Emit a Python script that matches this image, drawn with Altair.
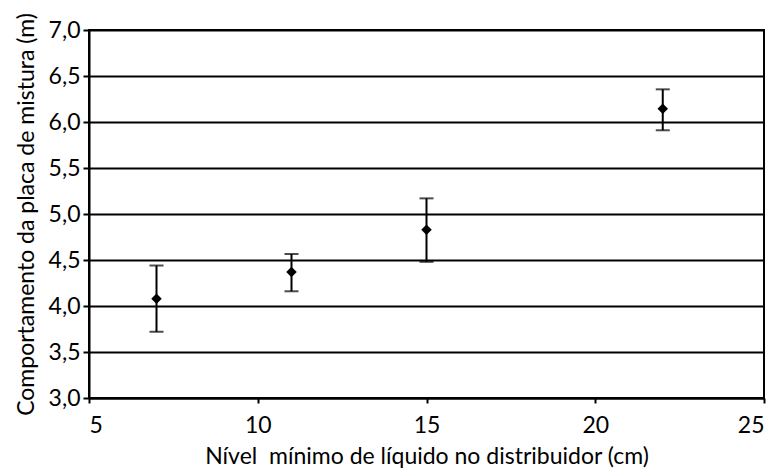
import altair as alt
import pandas as pd

nivel = [7, 11, 15, 22]
media = [4.08, 4.37, 4.83, 6.145]
sup = [4.44, 4.565, 5.17, 6.355]
inf = [3.72, 4.16, 4.48, 5.91]

df = pd.DataFrame({"x": nivel, "y": media, "hi": sup, "lo": inf})

FONT = "Lato"
xs = alt.Scale(domain=[5, 25], nice=False, zero=False)
ys = alt.Scale(domain=[3, 7], nice=False, zero=False)

xenc = alt.X("x:Q", scale=xs,
             axis=alt.Axis(title="Nível\u00a0 mínimo de líquido no distribuidor (cm)",
                           values=[5, 10, 15, 20, 25], grid=False,
                           domainColor="black", domainWidth=2, tickColor="black",
                           tickWidth=2, tickSize=5, labelFontSize=23, labelColor="black",
                           labelFont=FONT, titleFont=FONT, titleFontSize=23,
                           titleFontWeight="normal", titleColor="black", labelPadding=11,
                           titlePadding=8))
yenc = alt.Y("y:Q", scale=ys,
             axis=alt.Axis(title="Comportamento da placa de mistura (m)",
                           values=[3, 3.5, 4, 4.5, 5, 5.5, 6, 6.5, 7], grid=True,
                           gridColor="black", gridWidth=2, gridOpacity=1,
                           domainColor="black", domainWidth=2, tickColor="black",
                           tickWidth=2, tickSize=6, labelFontSize=23, labelColor="black",
                           labelFont=FONT, titleFont=FONT, titleFontSize=23,
                           titleFontWeight="normal", titleColor="black", labelPadding=3,
                           titlePadding=10,
                           labelExpr="replace(format(datum.value, '.1f'), '.', ',')"))

base = alt.Chart(df)
rules = base.mark_rule(color="black", strokeWidth=2).encode(
    x=xenc, y=alt.Y("lo:Q", scale=ys), y2="hi:Q")
caps_hi = base.mark_tick(color="black", thickness=2, size=14, orient="horizontal").encode(
    x=alt.X("x:Q", scale=xs), y=alt.Y("hi:Q", scale=ys))
caps_lo = base.mark_tick(color="black", thickness=2, size=14, orient="horizontal").encode(
    x=alt.X("x:Q", scale=xs), y=alt.Y("lo:Q", scale=ys))
pts = base.mark_point(shape="diamond", filled=True, color="black", size=110, opacity=1).encode(
    x=alt.X("x:Q", scale=xs), y=yenc)

chart = alt.layer(rules, caps_hi, caps_lo, pts).properties(
    width=675, height=368,
    autosize=alt.AutoSizeParams(type="none"),
    padding={"left": 81, "top": 22, "right": 8, "bottom": 75},
    background="white",
).configure_view(stroke="black", strokeWidth=2)

chart.save("out.html", embed_options={"renderer": "svg", "actions": False})
